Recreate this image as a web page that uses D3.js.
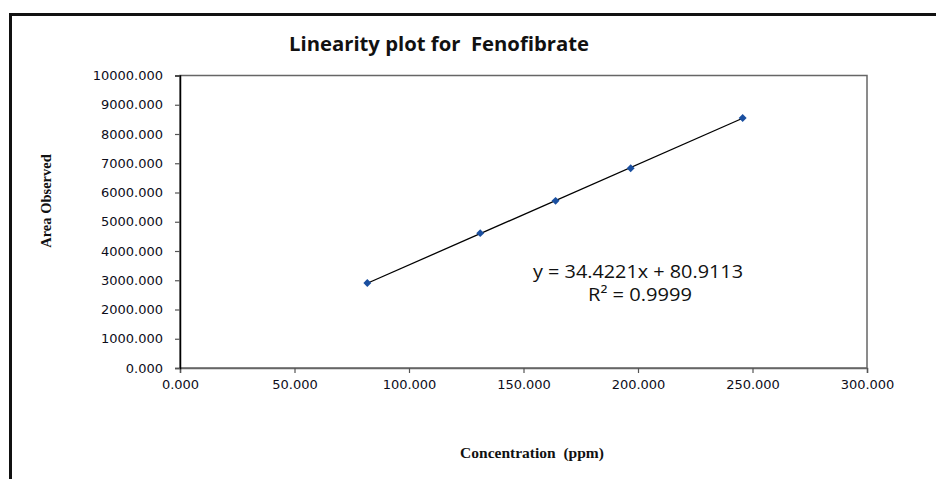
<!DOCTYPE html>
<html>
<head>
<meta charset="utf-8">
<script src="https://cdn.jsdelivr.net/npm/d3@7"></script>
<style>
  body { margin: 0; background: #fff; }
</style>
</head>
<body>
<div id="chart"></div>
<script>
// Calibration data
const concentration = [81.8, 131.1, 164.0, 196.8, 245.7];
const areaObserved = [2905, 4610, 5715, 6830, 8545];
const xTicks = [0, 50, 100, 150, 200, 250, 300];
const yTicks = [0, 1000, 2000, 3000, 4000, 5000, 6000, 7000, 8000, 9000, 10000];
const slope = 34.4221;
const intercept = 80.9113;

const width = 936, height = 479;
const plot = {left: 180, right: 867, top: 75.5, bottom: 368};

const svg = d3.select("#chart")
    .append("svg")
    .attr("width", width)
    .attr("height", height);

// Outer frame (left and top edges only are visible)
svg.append("path")
    .attr("d", "M10.5," + height + "V14.5H" + width)
    .attr("fill", "none")
    .attr("stroke", "#111")
    .attr("stroke-width", 3);

const x = d3.scaleLinear().domain([0, 300]).range([plot.left, plot.right]);
const y = d3.scaleLinear().domain([0, 10000]).range([plot.bottom, plot.top]);

// Plot area box
svg.append("rect")
    .attr("x", plot.left)
    .attr("y", plot.top)
    .attr("width", plot.right - plot.left)
    .attr("height", plot.bottom - plot.top)
    .attr("fill", "none")
    .attr("stroke", "#666")
    .attr("stroke-width", 1.5);

// Axes
const xAxis = svg.append("g")
    .attr("transform", "translate(0," + plot.bottom + ")")
    .call(d3.axisBottom(x).tickValues(xTicks).tickFormat(d3.format(".3f")).tickSize(5).tickPadding(7));

const yAxis = svg.append("g")
    .attr("transform", "translate(" + plot.left + ",0)")
    .call(d3.axisLeft(y).tickValues(yTicks).tickFormat(d3.format(".3f")).tickSize(5).tickPadding(12));

xAxis.select(".domain").attr("stroke", "#666").attr("stroke-width", 1.5);
yAxis.select(".domain").attr("stroke", "#000").attr("stroke-width", 1.5);
xAxis.selectAll(".tick line").attr("stroke", "#555").attr("stroke-width", 1.2);
yAxis.selectAll(".tick line").attr("stroke", "#555").attr("stroke-width", 1.2);
svg.selectAll(".tick text")
    .attr("font-family", "DejaVu Sans, Verdana, sans-serif")
    .attr("font-size", 13)
    .attr("fill", "#0d0d1a");
yAxis.selectAll(".tick text").attr("x", -17);

// Trend line across the data range
const xMin = d3.min(concentration), xMax = d3.max(concentration);
svg.append("line")
    .attr("x1", x(xMin))
    .attr("y1", y(slope * xMin + intercept))
    .attr("x2", x(xMax))
    .attr("y2", y(slope * xMax + intercept))
    .attr("stroke", "#000")
    .attr("stroke-width", 1.3);

// Diamond markers
const points = concentration.map((c, i) => ({c: c, a: areaObserved[i]}));
svg.selectAll(".pt")
    .data(points)
    .enter()
        .append("path")
        .attr("class", "pt")
        .attr("d", d3.symbol().type(d3.symbolDiamond2).size(40))
        .attr("transform", d => "translate(" + x(d.c) + "," + y(d.a) + ")")
        .attr("fill", "#1a4fa0");

// Title
svg.append("text")
    .attr("x", 439)
    .attr("y", 51)
    .attr("text-anchor", "middle")
    .attr("font-family", "Open Sans, sans-serif")
    .attr("font-weight", "bold")
    .attr("font-size", 20)
    .attr("textLength", 300)
    .attr("lengthAdjust", "spacingAndGlyphs")
    .attr("fill", "#111")
    .attr("xml:space", "preserve")
    .text("Linearity plot for  Fenofibrate");

// Regression equation
svg.append("text")
    .attr("x", 638)
    .attr("y", 278)
    .attr("text-anchor", "middle")
    .attr("font-family", "Open Sans, sans-serif")
    .attr("font-size", 18)
    .attr("textLength", 210)
    .attr("lengthAdjust", "spacingAndGlyphs")
    .attr("fill", "#111")
    .text("y = 34.4221x + 80.9113");

svg.append("text")
    .attr("x", 640)
    .attr("y", 301)
    .attr("text-anchor", "middle")
    .attr("font-family", "Open Sans, sans-serif")
    .attr("font-size", 18)
    .attr("textLength", 104)
    .attr("lengthAdjust", "spacingAndGlyphs")
    .attr("fill", "#111")
    .text("R² = 0.9999");

// Axis titles
svg.append("text")
    .attr("x", 532)
    .attr("y", 458)
    .attr("text-anchor", "middle")
    .attr("font-family", "Liberation Serif, Times New Roman, serif")
    .attr("font-weight", "bold")
    .attr("font-size", 15.5)
    .attr("fill", "#111")
    .attr("xml:space", "preserve")
    .text("Concentration  (ppm)");

svg.append("text")
    .attr("transform", "translate(51,201) rotate(-90)")
    .attr("text-anchor", "middle")
    .attr("font-family", "Liberation Serif, Times New Roman, serif")
    .attr("font-weight", "bold")
    .attr("font-size", 14.5)
    .attr("fill", "#111")
    .text("Area Observed");
</script>
</body>
</html>
